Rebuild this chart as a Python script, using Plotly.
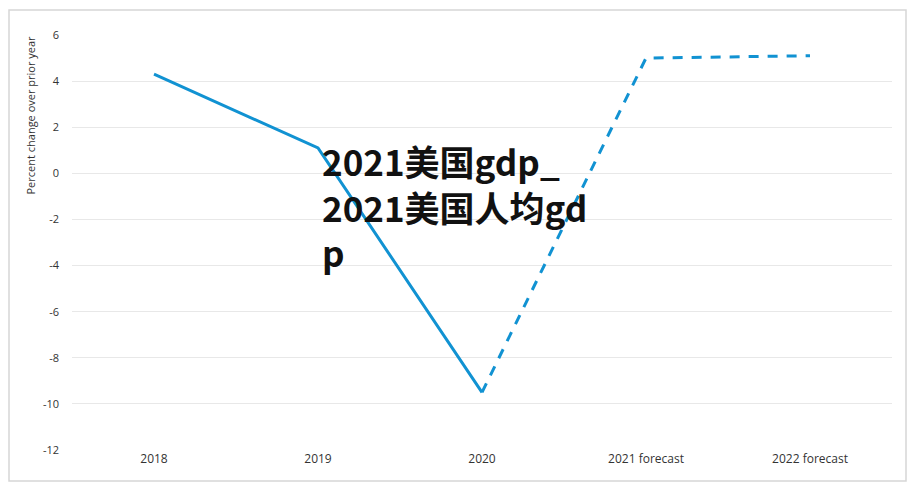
import plotly.graph_objects as go

categories = ["2018", "2019", "2020", "2021 forecast", "2022 forecast"]
actual_values = [4.3, 1.1, -9.5]
forecast_values = [-9.5, 5.0, 5.1]
y_ticks = [6, 4, 2, 0, -2, -4, -6, -8, -10, -12]
y_tick_labels = [str(v) for v in y_ticks]

LINE = "#1192d2"

fig = go.Figure()
fig.add_trace(go.Scatter(x=categories[:3], y=actual_values, mode="lines",
                         line=dict(color=LINE, width=3), showlegend=False, hoverinfo="skip"))
fig.add_trace(go.Scatter(x=categories[2:], y=forecast_values, mode="lines",
                         line=dict(color=LINE, width=3, dash="10px,9px"), showlegend=False, hoverinfo="skip"))

L, R, T, B = 72, 915 - 892, 35, 487 - 450
W, H = 915 - L - R, 487 - T - B

def px(x):
    return (x - L) / W

def py(y):
    return (487 - B - y) / H

fig.update_layout(
    width=915, height=487,
    margin=dict(l=L, r=R, t=T, b=B),
    paper_bgcolor="white", plot_bgcolor="white",
    font=dict(family="Open Sans, sans-serif", size=11, color="#333333"),
    xaxis=dict(type="category", categoryorder="array", categoryarray=categories,
               range=[-0.5, 4.5], showgrid=False, zeroline=False, showline=False,
               ticks="", tickfont=dict(family="Liberation Sans Narrow, Open Sans", size=12, color="#333333")),
    yaxis=dict(range=[-12, 6], tickvals=y_ticks, ticktext=y_tick_labels, showgrid=True, gridcolor="#e8e8e8",
               gridwidth=1, zeroline=False, showline=False, ticks="",
               ticklabelstandoff=12, tickfont=dict(size=11, color="#333333")),
    shapes=[dict(type="rect", xref="paper", yref="paper",
                 x0=px(9), x1=px(906), y0=py(481), y1=py(10),
                 line=dict(color="#d6d6d6", width=1.5), fillcolor="rgba(0,0,0,0)", layer="below")],
    annotations=[
        dict(text="Percent change over prior year", xref="paper", yref="paper",
             x=px(30), y=py(34), xanchor="center", yanchor="top", textangle=-90,
             showarrow=False, font=dict(size=11, color="#333333")),
        dict(text="2021美国gdp_<br>2021美国人均gd<br>p", xref="paper", yref="paper",
             x=px(320), y=py(133), xanchor="left", yanchor="top", align="left",
             showarrow=False,
             font=dict(family="Noto Sans CJK SC", size=35, color="#111111", weight="bold")),
    ],
)

fig.write_html("out.html")
